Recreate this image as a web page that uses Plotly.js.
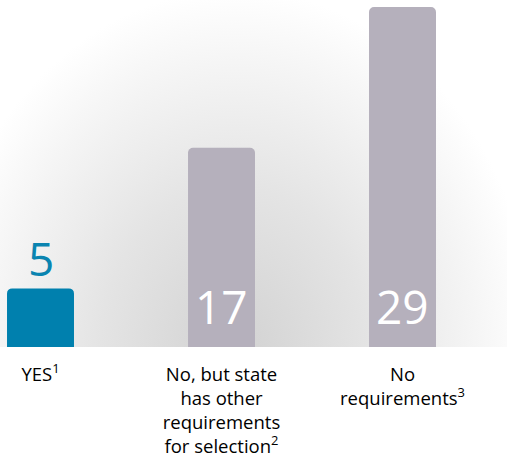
<!DOCTYPE html>
<html>
<head>
<meta charset="utf-8">
<script src="https://cdn.plot.ly/plotly-3.0.1.min.js"></script>
<style>
  html, body { margin: 0; padding: 0; background: #ffffff; }
  #wrap { position: relative; width: 507px; height: 459px; overflow: hidden; background: #ffffff; }
  #bg { position: absolute; left: 0; top: 0; width: 507px; height: 347px;
        background: radial-gradient(ellipse 300px 360px at 235px 350px, #d2d2d2 0%, #e4e4e4 45%, #f5f5f5 80%, #ffffff 100%); }
  #chart { position: absolute; left: 0; top: 0; width: 507px; height: 459px; }
</style>
</head>
<body>
<div id="wrap"><div id="bg"></div><div id="chart"></div></div>
<script>
// Data
const categories = ["YES", "No, but state has other requirements for selection", "No requirements"];
const tickLabels = [
  "YES<sup>1</sup>",
  "No, but state<br>has other<br>requirements<br>for selection<sup>2</sup>",
  "No<br>requirements<sup>3</sup>"
];
const values = [5, 17, 29];
const barColors = ["#0080ae", "#b5b0bc", "#b5b0bc"];
const labelColors = ["#0a84b0", "#ffffff", "#ffffff"];

const xIdx = categories.map((_, i) => i);

const trace = {
  type: "bar",
  x: xIdx,
  y: values,
  width: 0.37,
  marker: { color: barColors, cornerradius: 5, line: { width: 0 } },
  hoverinfo: "none"
};

const annotations = values.map((v, i) => {
  const above = i === 0;
  return {
    x: i,
    y: above ? v : 0,
    xref: "x",
    yref: "y",
    text: String(v),
    showarrow: false,
    xanchor: "center",
    yanchor: "bottom",
    yshift: above ? -3 : 8,
    font: { family: "Open Sans, sans-serif", size: 46, color: labelColors[i] }
  };
});

const layout = {
  width: 507,
  height: 459,
  margin: { l: 0, r: 0, t: 0, b: 112, pad: 0 },
  paper_bgcolor: "rgba(0,0,0,0)",
  plot_bgcolor: "rgba(0,0,0,0)",
  showlegend: false,
  xaxis: {
    range: [-0.2238, 2.5773],
    tickmode: "array",
    tickvals: xIdx,
    ticktext: tickLabels,
    showgrid: false,
    zeroline: false,
    showline: false,
    ticks: "",
    ticklabelstandoff: 14,
    tickfont: { family: "Open Sans, sans-serif", size: 18.5, color: "#000000" },
    fixedrange: true
  },
  yaxis: {
    range: [0, 29.6],
    visible: false,
    showgrid: false,
    zeroline: false,
    fixedrange: true
  },
  annotations: annotations
};

Plotly.newPlot("chart", [trace], layout, { displayModeBar: false, staticPlot: true });
</script>
</body>
</html>
